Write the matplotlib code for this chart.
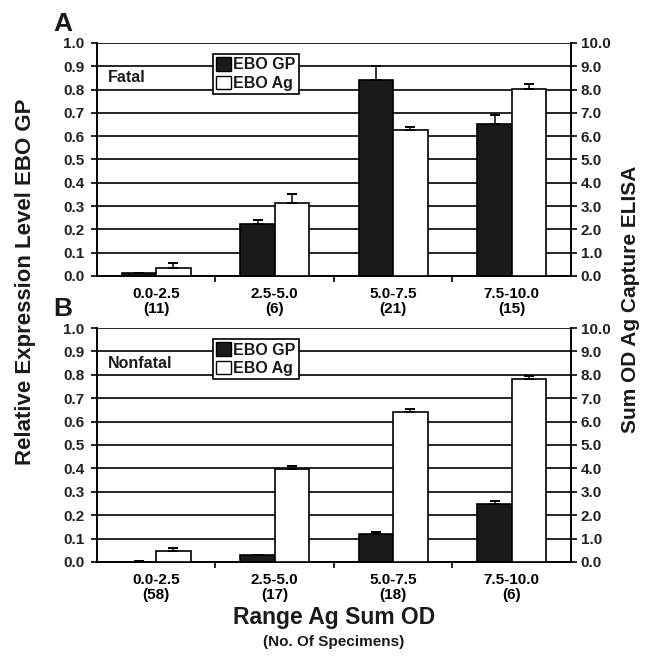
import numpy as np
import matplotlib.pyplot as plt
from matplotlib.ticker import FormatStrFormatter, FixedLocator

plt.rcParams['font.family'] = ['Liberation Sans', 'DejaVu Sans']
plt.rcParams['font.weight'] = 'bold'
plt.rcParams['text.color'] = '#1a1a1a'

# Data
ranges = ['0.0-2.5', '2.5-5.0', '5.0-7.5', '7.5-10.0']
n_fatal = [11, 6, 21, 15]
n_nonfatal = [58, 17, 18, 6]

# relative expression (left axis), Ag sum OD (right axis)
gp_fatal = [0.011, 0.222, 0.843, 0.651]
gp_fatal_err = [0.003, 0.018, 0.057, 0.039]
ag_fatal = [0.36, 3.14, 6.25, 8.01]
ag_fatal_err = [0.18, 0.38, 0.16, 0.22]

gp_nonfatal = [0.002, 0.029, 0.121, 0.246]
gp_nonfatal_err = [0.001, 0.002, 0.008, 0.016]
ag_nonfatal = [0.48, 3.97, 6.39, 7.81]
ag_nonfatal_err = [0.11, 0.12, 0.16, 0.12]

fig = plt.figure(figsize=(6.53, 6.56), dpi=100)

bw = 0.29
lw = 1.2
dark = '#1a1a1a'


def panel(rect, gp, gp_err, ag, ag_err, counts, tag, letter):
    ax = fig.add_axes(rect)
    ax2 = ax.twinx()
    x = np.arange(len(ranges))

    ax.bar(x - bw / 2, gp, bw, color=dark, edgecolor='black', lw=lw, zorder=3)
    ax.errorbar(x - bw / 2, gp, yerr=[np.zeros(4), gp_err], fmt='none',
                ecolor='black', elinewidth=1.1, capsize=3.5, capthick=1.4, zorder=4)
    ax2.bar(x + bw / 2, ag, bw, color='white', edgecolor='black', lw=lw, zorder=3)
    ax2.errorbar(x + bw / 2, ag, yerr=[np.zeros(4), ag_err], fmt='none',
                 ecolor='black', elinewidth=1.1, capsize=3.5, capthick=1.4, zorder=4)

    ax.set_xlim(-0.5, 3.5)
    ax.set_ylim(0, 1)
    ax2.set_ylim(0, 10)
    ax.set_yticks(np.arange(0, 1.01, 0.1))
    ax2.set_yticks(np.arange(0, 10.1, 1))
    ax.yaxis.set_major_formatter(FormatStrFormatter('%.1f'))
    ax2.yaxis.set_major_formatter(FormatStrFormatter('%.1f'))

    ax.set_xticks(x)
    ax.set_xticklabels([f'{r}\n({n})' for r, n in zip(ranges, counts)],
                       fontsize=11, linespacing=1.05)
    ax.xaxis.set_minor_locator(FixedLocator([0.5, 1.5, 2.5]))
    ax.tick_params(axis='x', which='major', length=0, pad=8)
    ax.tick_params(axis='x', which='minor', length=4, width=lw, direction='out')
    ax.tick_params(axis='y', length=4, width=lw, labelsize=11, pad=5,
                   labelcolor='#222222')
    ax2.tick_params(axis='y', length=4, width=lw, labelsize=11, pad=3,
                    labelcolor='#222222')

    ax.yaxis.grid(True, color='black', lw=1.2)
    ax.set_axisbelow(True)
    for a in (ax, ax2):
        for s in a.spines.values():
            s.set_linewidth(lw)
        a.spines['top'].set_visible(False)

    ax.text(0.023, 0.85, tag, transform=ax.transAxes, fontsize=11.5,
            fontweight='bold', va='center', ha='left')

    handles = [plt.Rectangle((0, 0), 1, 1, fc=dark, ec='black', lw=1),
               plt.Rectangle((0, 0), 1, 1, fc='white', ec='black', lw=1)]
    leg = ax.legend(handles, ['EBO GP', 'EBO Ag'], loc='upper left',
                    bbox_to_anchor=(0.245, 0.952), fontsize=11.5,
                    handlelength=0.9, handleheight=0.9, handletextpad=0.15,
                    borderpad=0.2, labelspacing=0.2, borderaxespad=0,
                    fancybox=False, framealpha=1, edgecolor='black')
    leg.get_frame().set_linewidth(1.2)
    leg.set_zorder(10)
    ax.text(-0.072, 1.03, letter, transform=ax.transAxes, fontsize=19,
            fontweight='bold', ha='center', va='bottom')
    return ax


panel([0.1485, 0.5793, 0.7259, 0.3552], gp_fatal, gp_fatal_err,
      ag_fatal, ag_fatal_err, n_fatal, 'Fatal', 'A')
panel([0.1485, 0.1433, 0.7259, 0.3567], gp_nonfatal, gp_nonfatal_err,
      ag_nonfatal, ag_nonfatal_err, n_nonfatal, 'Nonfatal', 'B')

fig.text(0.039, 0.57, 'Relative Expression Level EBO GP', rotation=90,
         ha='center', va='center', fontsize=16, fontweight='bold')
fig.text(0.965, 0.543, 'Sum OD Ag Capture ELISA', rotation=90,
         ha='center', va='center', fontsize=15, fontweight='bold')
fig.text(0.511, 0.058, 'Range Ag Sum OD', ha='center', va='center',
         fontsize=16.5, fontweight='bold')
fig.text(0.511, 0.021, '(No. Of Specimens)', ha='center', va='center',
         fontsize=11, fontweight='bold')

fig.savefig('out.png', dpi=100)
